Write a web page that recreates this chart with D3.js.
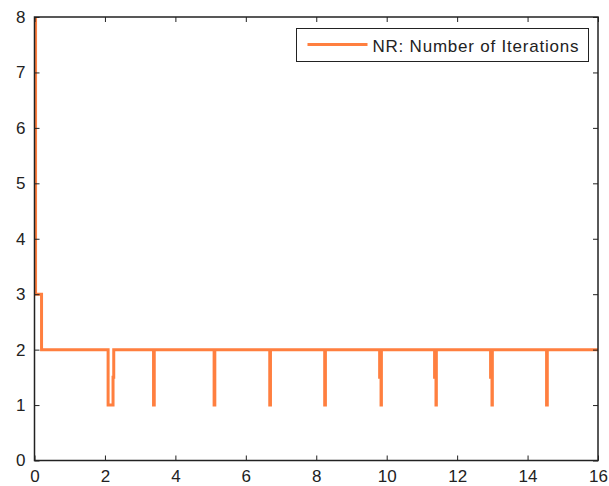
<!DOCTYPE html>
<html>
<head>
<meta charset="utf-8">
<script src="https://cdn.jsdelivr.net/npm/d3@7"></script>
<style>
  body { margin: 0; background: #fff; }
  svg { display: block; }
  text { font-family: "Liberation Sans", Arial, sans-serif; }
</style>
</head>
<body>
<div class="canvas"></div>
<script>
// DATA
const time = [
  0.03, 0.03, 0.2, 0.2,
  2.09, 2.09, 2.23, 2.23, 2.25, 2.25,
  3.38, 3.38, 3.40, 3.40,
  5.10, 5.10, 5.12, 5.12,
  6.68, 6.68, 6.70, 6.70,
  8.24, 8.24, 8.26, 8.26,
  9.80, 9.80, 9.84, 9.84, 9.85, 9.85,
  11.36, 11.36, 11.40, 11.40, 11.41, 11.41,
  12.95, 12.95, 12.99, 12.99, 13.00, 13.00,
  14.54, 14.54, 14.56, 14.56,
  16
];
const iterations = [
  8, 3, 3, 2,
  2, 1, 1, 1.5, 1.5, 2,
  2, 1, 1, 2,
  2, 1, 1, 2,
  2, 1, 1, 2,
  2, 1, 1, 2,
  2, 1.5, 1.5, 1, 1, 2,
  2, 1.5, 1.5, 1, 1, 2,
  2, 1.5, 1.5, 1, 1, 2,
  2, 1, 1, 2,
  2
];
const xTicks = [0, 2, 4, 6, 8, 10, 12, 14, 16];
const yTicks = [0, 1, 2, 3, 4, 5, 6, 7, 8];
const seriesName = 'NR: Number of Iterations';

const dims = { width: 609, height: 486 };
const plot = { left: 34.5, right: 598, top: 17, bottom: 460.5 };
const lineColor = '#ff7f3f';
const ink = '#222';

const svg = d3
  .select('.canvas')
  .append('svg')
  .attr('width', dims.width)
  .attr('height', dims.height);

const x = d3.scaleLinear().domain([0, 16]).range([plot.left, plot.right]);
const y = d3.scaleLinear().domain([0, 8]).range([plot.bottom, plot.top]);

// LINE
const points = time.map((t, i) => ({ t, n: iterations[i] }));
const line = d3
  .line()
  .x((d) => x(d.t))
  .y((d) => y(d.n));

svg
  .append('path')
  .datum(points)
  .attr('fill', 'none')
  .attr('stroke', lineColor)
  .attr('stroke-width', 3)
  .attr('stroke-linejoin', 'miter')
  .attr('d', line);

// AXES (inward ticks on all four sides)
const styleAxis = (g, showText) => {
  g.select('.domain').remove();
  g.selectAll('.tick line').attr('stroke', ink);
  g.selectAll('.tick text')
    .attr('fill', ink)
    .style('font-size', '17px')
    .style('display', showText ? null : 'none');
};

svg
  .append('g')
  .attr('transform', `translate(0, ${plot.bottom})`)
  .call(d3.axisBottom(x).tickValues(xTicks).tickSizeInner(-5).tickSizeOuter(0).tickPadding(9))
  .call((g) => styleAxis(g, true));

svg
  .append('g')
  .attr('transform', `translate(0, ${plot.top})`)
  .call(d3.axisTop(x).tickValues(xTicks).tickSizeInner(-5).tickSizeOuter(0))
  .call((g) => styleAxis(g, false));

svg
  .append('g')
  .attr('transform', `translate(${plot.left}, 0)`)
  .call(d3.axisLeft(y).tickValues(yTicks).tickSizeInner(-5).tickSizeOuter(0).tickPadding(9))
  .call((g) => styleAxis(g, true));

svg
  .append('g')
  .attr('transform', `translate(${plot.right}, 0)`)
  .call(d3.axisRight(y).tickValues(yTicks).tickSizeInner(-5).tickSizeOuter(0))
  .call((g) => styleAxis(g, false));

// FRAME
svg
  .append('rect')
  .attr('x', plot.left)
  .attr('y', plot.top)
  .attr('width', plot.right - plot.left)
  .attr('height', plot.bottom - plot.top)
  .attr('fill', 'none')
  .attr('stroke', ink)
  .attr('stroke-width', 1.5);

// LEGEND
const legend = svg.append('g').attr('transform', 'translate(296.5, 28.5)');

legend
  .append('rect')
  .attr('width', 292)
  .attr('height', 33)
  .attr('fill', '#fff')
  .attr('stroke', ink)
  .attr('stroke-width', 1);

legend
  .append('line')
  .attr('x1', 11)
  .attr('x2', 71)
  .attr('y1', 16)
  .attr('y2', 16)
  .attr('stroke', lineColor)
  .attr('stroke-width', 3);

legend
  .append('text')
  .attr('x', 76)
  .attr('y', 23.5)
  .attr('fill', ink)
  .attr('textLength', 206)
  .attr('lengthAdjust', 'spacing')
  .style('font-size', '17px')
  .text(seriesName);
</script>
</body>
</html>
